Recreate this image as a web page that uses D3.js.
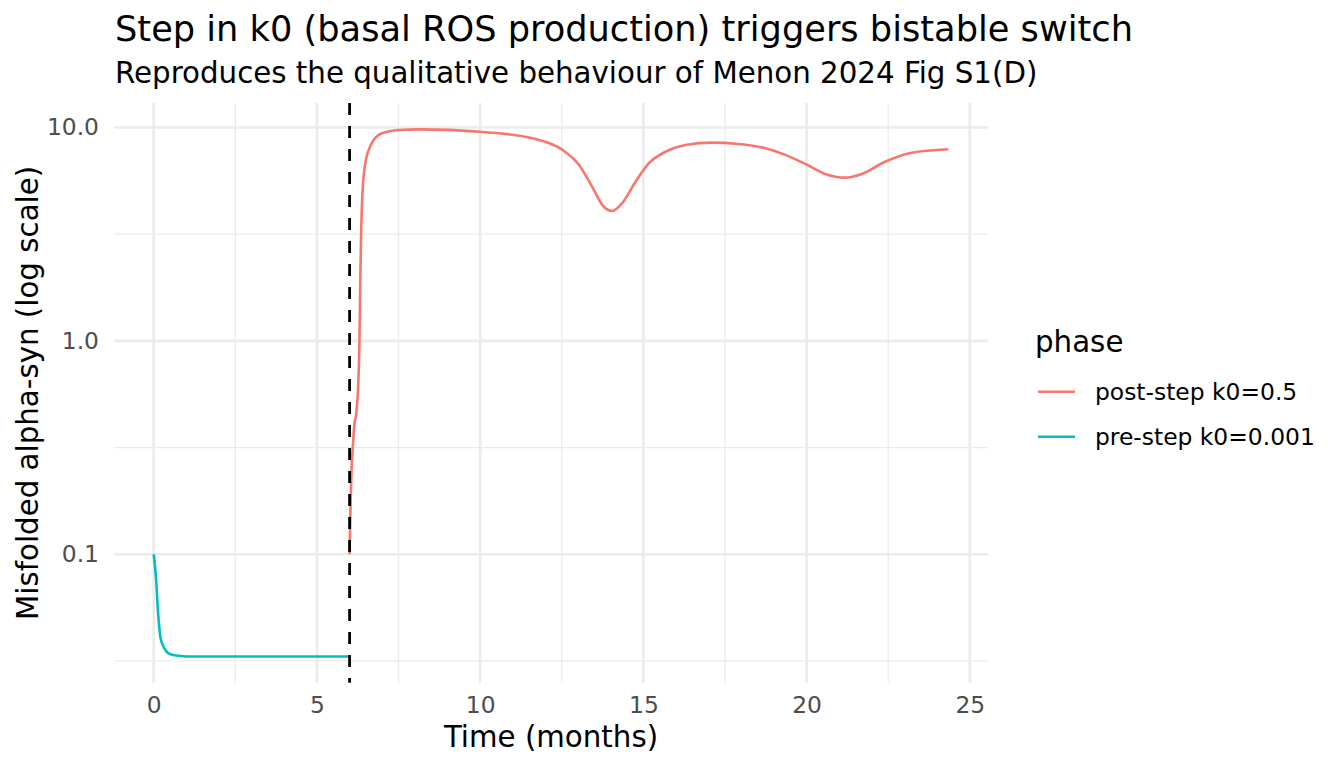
<!DOCTYPE html>
<html>
<head>
<meta charset="utf-8">
<script src="https://cdn.jsdelivr.net/npm/d3@7"></script>
<style>
  body { margin: 0; background: #fff; }
  text { font-family: "DejaVu Sans", sans-serif; }
</style>
</head>
<body>
<svg id="chart" width="1344" height="768"></svg>
<script>
// pre-step phase (k0 = 0.001)
const preTime = [0, 0.07, 0.13, 0.21, 0.32, 0.44, 0.64, 1.0, 2, 3, 4, 5, 6]
const preValue = [0.1, 0.0774, 0.054, 0.0405, 0.0364, 0.0344, 0.0336, 0.0332, 0.0332, 0.0332, 0.0332, 0.0332, 0.0332]

// post-step phase (k0 = 0.5)
const postTime = [6.0, 6.03, 6.06, 6.10, 6.15, 6.20, 6.26, 6.30, 6.33, 6.35, 6.40, 6.50, 6.61, 6.71, 6.96, 7.52, 8.13,
  9.0, 10.0, 10.58, 11.6, 12.52, 13.03, 13.43, 13.74, 14.05, 14.35, 14.76, 15.17, 15.68, 16.29, 17.1, 17.92,
  18.74, 19.35, 19.96, 20.57, 21.18, 21.69, 22.4, 23.22, 24.34]
const postValue = [0.1, 0.17, 0.25, 0.32, 0.41, 0.45, 0.6, 0.95, 2.0, 3.0, 5.1, 7.04, 8.0, 8.6, 9.35, 9.73, 9.8,
  9.75, 9.55, 9.39, 8.9, 7.85, 6.67, 5.28, 4.34, 4.06, 4.42, 5.57, 6.8, 7.7, 8.28, 8.49, 8.37,
  7.99, 7.44, 6.75, 6.06, 5.82, 6.06, 6.91, 7.62, 7.91]

const stepTime = 6
const xTicks = [0, 5, 10, 15, 20, 25]
const xMinor = [2.5, 7.5, 12.5, 17.5, 22.5]
const yTicks = [0.1, 1, 10]
const yTickLabels = ['0.1', '1.0', '10.0']
const yMinor = [Math.pow(10, -1.5), Math.pow(10, -0.5), Math.pow(10, 0.5)]

const series = [
  { name: 'post-step k0=0.5', color: '#F8766D', t: postTime, v: postValue },
  { name: 'pre-step k0=0.001', color: '#00BFC4', t: preTime, v: preValue }
]

const svg = d3.select('#chart')
const pLeft = 114, pRight = 988, pTop = 103, pBottom = 682.8

// ggplot style 5% expansion
const allT = preTime.concat(postTime)
const allV = preValue.concat(postValue)
const tMin = d3.min(allT), tMax = d3.max(allT)
const tPad = (tMax - tMin) * 0.05
const lMin = Math.log10(d3.min(allV)), lMax = Math.log10(d3.max(allV))
const lPad = (lMax - lMin) * 0.05

const x = d3.scaleLinear().domain([tMin - tPad, tMax + tPad]).range([pLeft, pRight])
const y = d3.scaleLog().domain([Math.pow(10, lMin - lPad), Math.pow(10, lMax + lPad)]).range([pBottom, pTop])

const grid = svg.append('g')
grid.selectAll('.xminor').data(xMinor).enter().append('line')
  .attr('x1', d => x(d)).attr('x2', d => x(d)).attr('y1', pTop).attr('y2', pBottom)
  .attr('stroke', '#EBEBEB').attr('stroke-width', 1.3)
grid.selectAll('.yminor').data(yMinor).enter().append('line')
  .attr('y1', d => y(d)).attr('y2', d => y(d)).attr('x1', pLeft).attr('x2', pRight)
  .attr('stroke', '#EBEBEB').attr('stroke-width', 1.3)
grid.selectAll('.xmajor').data(xTicks).enter().append('line')
  .attr('x1', d => x(d)).attr('x2', d => x(d)).attr('y1', pTop).attr('y2', pBottom)
  .attr('stroke', '#EBEBEB').attr('stroke-width', 2.6)
grid.selectAll('.ymajor').data(yTicks).enter().append('line')
  .attr('y1', d => y(d)).attr('y2', d => y(d)).attr('x1', pLeft).attr('x2', pRight)
  .attr('stroke', '#EBEBEB').attr('stroke-width', 2.6)

// axes (ticks hidden, labels only)
const xAxis = svg.append('g').attr('transform', `translate(0,${pBottom})`)
  .call(d3.axisBottom(x).tickValues(xTicks).tickSize(0).tickPadding(14))
const yAxis = svg.append('g').attr('transform', `translate(${pLeft},0)`)
  .call(d3.axisLeft(y).tickValues(yTicks).tickFormat((d, i) => yTickLabels[i]).tickSize(0).tickPadding(15))
;[xAxis, yAxis].forEach(a => {
  a.select('.domain').remove()
  a.selectAll('text').attr('fill', '#4D4D4D').style('font-size', '23.4px')
    .style('font-family', '"DejaVu Sans", sans-serif')
})

const line = d3.line().x(d => x(d[0])).y(d => y(d[1])).curve(d3.curveMonotoneX)
series.forEach(s => {
  svg.append('path')
    .datum(s.t.map((t, i) => [t, s.v[i]]))
    .attr('d', line)
    .attr('fill', 'none')
    .attr('stroke', s.color)
    .attr('stroke-width', 2.6)
})

svg.append('line')
  .attr('x1', x(stepTime)).attr('x2', x(stepTime)).attr('y1', pTop).attr('y2', pBottom)
  .attr('stroke', '#000').attr('stroke-width', 2.8).attr('stroke-dasharray', '12,11')

// titles
svg.append('text').attr('x', 115).attr('y', 41).style('font-size', '35.2px')
  .text('Step in k0 (basal ROS production) triggers bistable switch')
svg.append('text').attr('x', 115).attr('y', 83).style('font-size', '29.3px')
  .text('Reproduces the qualitative behaviour of Menon 2024 Fig S1(D)')
svg.append('text').attr('x', (pLeft + pRight) / 2).attr('y', 747).attr('text-anchor', 'middle')
  .style('font-size', '29.3px').text('Time (months)')
svg.append('text').attr('transform', `translate(38,${(pTop + pBottom) / 2}) rotate(-90)`)
  .attr('text-anchor', 'middle').style('font-size', '29.3px')
  .text('Misfolded alpha-syn (log scale)')

// legend
const legend = svg.append('g').attr('transform', 'translate(1035,0)')
legend.append('text').attr('x', 0).attr('y', 352).style('font-size', '29.3px').text('phase')
series.forEach((s, i) => {
  const ly = 391.7 + i * 45
  legend.append('line').attr('x1', 3).attr('x2', 40).attr('y1', ly).attr('y2', ly)
    .attr('stroke', s.color).attr('stroke-width', 2.6)
  legend.append('text').attr('x', 60).attr('y', ly + 8).style('font-size', '23.4px').text(s.name)
})
</script>
</body>
</html>
